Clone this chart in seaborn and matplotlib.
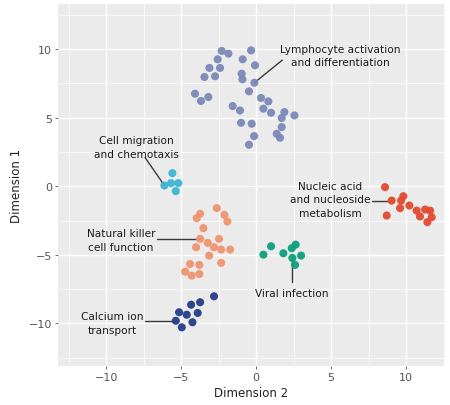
import numpy as np
import pandas as pd
import matplotlib
matplotlib.use("Agg")
import matplotlib.pyplot as plt
from matplotlib.ticker import MultipleLocator
import seaborn as sns

# Embedding coordinates for each functional cluster
lymph_x = [-2.29, -1.84, -2.56, -3.11, -2.40, -3.44, -2.73, -4.07, -3.67, -3.18,
           -0.33, -0.89, -0.07, -0.96, -0.91, -0.11, -0.47, 0.33, 0.82, 0.49,
           1.00, -1.56, -1.07, 1.89, 2.56, 1.71, -1.00, -0.29, 1.71, 1.38,
           1.60, -0.13, -0.47]
lymph_y = [9.87, 9.67, 9.26, 8.63, 8.63, 7.97, 8.02, 6.75, 6.22, 6.51,
           9.91, 9.26, 8.82, 8.21, 7.80, 7.55, 6.92, 6.44, 6.19, 5.66,
           5.36, 5.85, 5.53, 5.41, 5.17, 4.98, 4.63, 4.56, 4.32, 3.83,
           3.54, 3.66, 3.03]

migr_x = [-5.58, -6.11, -5.67, -5.18, -5.35]
migr_y = [0.96, 0.06, 0.23, 0.23, -0.35]

nk_x = [-3.73, -3.96, -2.62, -2.11, -1.91, -3.51, -3.73, -3.22, -2.47, -4.00,
        -2.80, -2.33, -1.73, -3.13, -2.33, -4.40, -3.78, -4.73, -4.29, -3.78]
nk_y = [-2.00, -2.32, -1.59, -2.08, -2.57, -3.05, -3.83, -4.12, -3.83, -4.44,
        -4.44, -4.61, -4.61, -5.05, -5.58, -5.66, -5.73, -6.22, -6.51, -6.39]

viral_x = [0.49, 1.00, 1.82, 2.38, 2.64, 2.42, 3.00, 2.60]
viral_y = [-4.98, -4.37, -4.88, -4.51, -4.25, -5.22, -5.05, -5.73]

nucl_x = [8.60, 9.04, 9.67, 9.82, 9.60, 10.22, 10.71, 11.27, 11.60, 10.93,
          11.42, 8.71, 11.71]
nucl_y = [-0.06, -1.04, -1.04, -0.72, -1.59, -1.40, -1.77, -1.69, -1.77, -2.20,
          -2.61, -2.13, -2.25]

calc_x = [-2.80, -3.73, -4.33, -5.13, -4.62, -3.89, -5.35, -4.24, -4.95]
calc_y = [-8.02, -8.45, -8.63, -9.18, -9.36, -9.23, -9.80, -9.91, -10.28]

clusters = ["Lymphocyte activation\nand differentiation",
            "Cell migration\nand chemotaxis",
            "Natural killer\ncell function",
            "Viral infection",
            "Nucleic acid\nand nucleoside\nmetabolism",
            "Calcium ion\ntransport"]
cluster_x = [lymph_x, migr_x, nk_x, viral_x, nucl_x, calc_x]
cluster_y = [lymph_y, migr_y, nk_y, viral_y, nucl_y, calc_y]
colors = ["#7b88b8", "#3db4d4", "#f0946f", "#0e9f7b", "#e2492f", "#263d87"]

df = pd.concat([pd.DataFrame({"dim2": xs, "dim1": ys, "cluster": name})
                for name, xs, ys in zip(clusters, cluster_x, cluster_y)],
               ignore_index=True)

# Label placement: text centre, line start, index of the point the line reaches
label_text_pos = [(5.6, 9.55), (-8.0, 2.85), (-9.0, -3.9), (2.4, -7.75),
                  (4.95, -0.95), (-9.6, -9.95)]
label_line_start = [(1.75, 9.2), (-7.4, 2.1), (-6.6, None), (None, -7.0),
                    (7.7, None), (-7.4, None)]
label_point_idx = [15, 1, 6, 5, 1, 6]

sns.set_theme(style="darkgrid")
plt.rcParams["font.family"] = ["DejaVu Sans"]

fig = plt.figure(figsize=(4.5, 4.06), dpi=100)
ax = fig.add_axes([0.129, 0.096, 0.860, 0.892])
ax.set_facecolor("#ebebeb")

sns.scatterplot(data=df, x="dim2", y="dim1", hue="cluster", hue_order=clusters,
                palette=colors, s=34, linewidth=0, alpha=0.95, legend=False,
                ax=ax, zorder=3)

# Connector lines and labels
for name, xs, ys, tpos, lstart, idx in zip(clusters, cluster_x, cluster_y,
                                            label_text_pos, label_line_start,
                                            label_point_idx):
    px, py = xs[idx], ys[idx]
    sx = lstart[0] if lstart[0] is not None else px
    sy = lstart[1] if lstart[1] is not None else py
    ax.plot([sx, px], [sy, py], color="#3a3a3a", lw=1.0, zorder=2)
    ax.text(tpos[0], tpos[1], name, ha="center", va="center", fontsize=7.6,
            color="#1a1a1a", linespacing=1.45, zorder=4)

ax.set_xlim(-13.2, 12.6)
ax.set_ylim(-13.1, 13.3)
ax.xaxis.set_major_locator(MultipleLocator(5))
ax.yaxis.set_major_locator(MultipleLocator(5))
ax.xaxis.set_minor_locator(MultipleLocator(2.5))
ax.yaxis.set_minor_locator(MultipleLocator(2.5))
ax.grid(which="major", color="white", lw=1.0)
ax.grid(which="minor", color="white", lw=0.5)
for sp in ax.spines.values():
    sp.set_visible(False)
ax.tick_params(axis="both", which="major", length=2.5, width=0.6,
               color="#555555", labelsize=8, labelcolor="#555555", pad=2,
               bottom=True, left=True)
ax.tick_params(axis="both", which="minor", length=0)
ax.set_xlabel("Dimension 2", fontsize=8.5, color="#222222", labelpad=3)
ax.set_ylabel("Dimension 1", fontsize=8.5, color="#222222", labelpad=4)

fig.savefig("out.png", dpi=100)
